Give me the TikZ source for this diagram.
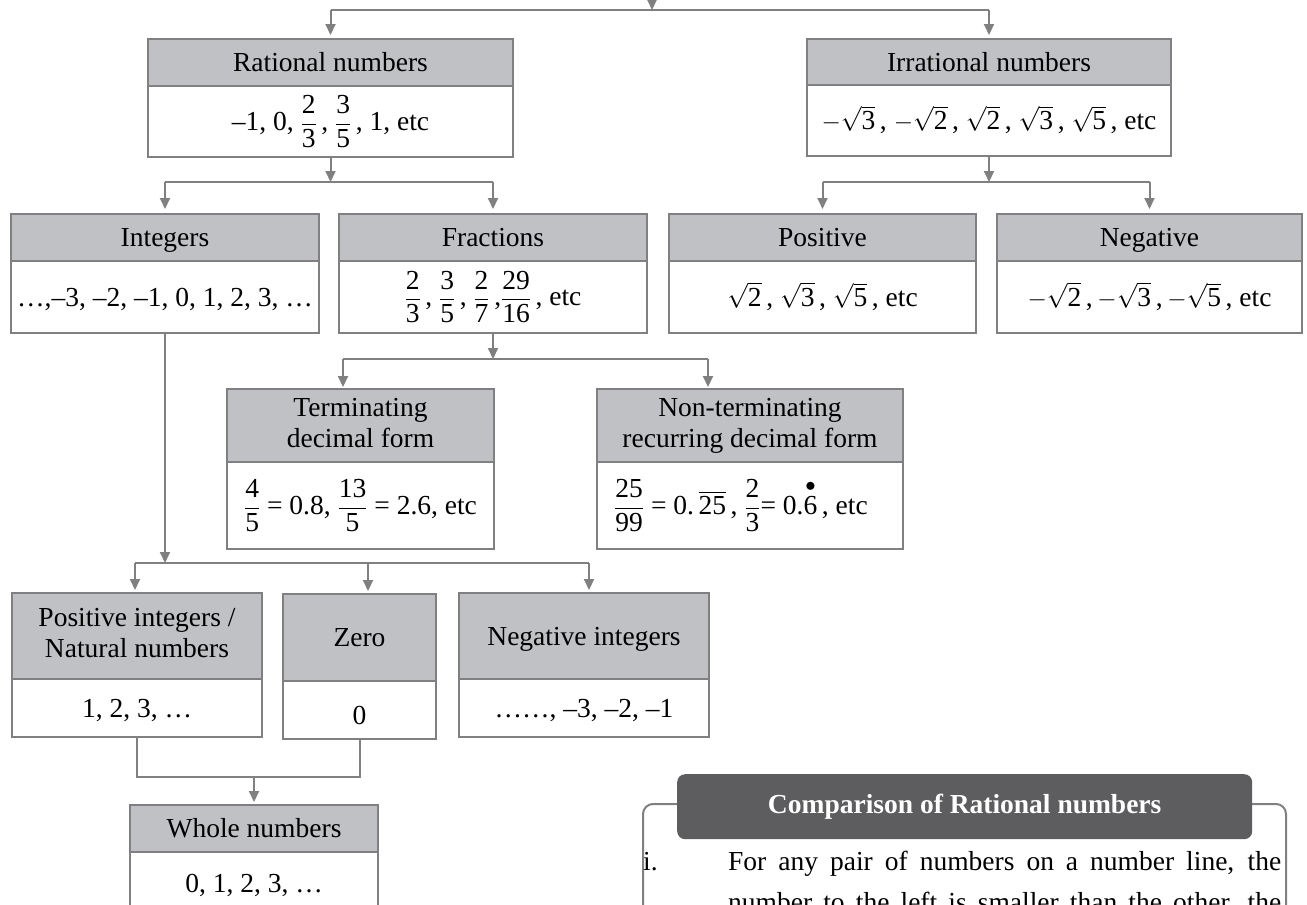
\documentclass[tikz,border=0pt]{standalone}
\usepackage{amsmath}
\usepackage{fontspec}
\setmainfont{Liberation Serif}
\usetikzlibrary{arrows.meta}
\definecolor{linegray}{RGB}{128,128,130}
\definecolor{hdrgray}{RGB}{192,193,196}
\definecolor{tabgray}{RGB}{93,93,95}
\newcommand\bigfont{\fontsize{27.5}{31}\selectfont}
\newcommand\hstrut{\rule[-6pt]{0pt}{30pt}}
\newcommand\fr[2]{\ensuremath{\dfrac{\text{#1}}{\text{#2}}}}
\newcommand\sq[1]{\ensuremath{\sqrt{\text{#1}}}}
\newcommand\mn{\ensuremath{-}}
\newcommand\twobox[8]{%
  \node[hdr, minimum width=#3-#2, minimum height=#5-#4] (#1h) at (#2,#4) {#7};
  \node[bodybox, minimum width=#3-#2, minimum height=#6-#5] (#1) at (#2,#5) {#8};}
\begin{document}
\begin{tikzpicture}[x=1pt,y=-1pt,
  hdr/.style={draw=linegray, fill=hdrgray, line width=2pt, inner sep=0pt, anchor=north west, align=center, font=\bigfont, execute at begin node=\hstrut, execute at end node=\hstrut},
  bodybox/.style={draw=linegray, fill=white, line width=2pt, inner sep=0pt, anchor=north west, align=center, font=\bigfont, execute at begin node=\hstrut},
  arr/.style={draw=linegray, line width=2pt, -{Triangle[length=11pt,width=10pt]}},
  conn/.style={draw=linegray, line width=2pt}]
\clip (0,0) rectangle (1307,905);
\fill[white] (0,0) rectangle (1307,905);
% boxes
\twobox{rat}{147}{512}{38}{85}{156}{Rational numbers}{--1, 0, \fr{2}{3}\,, \fr{3}{5}\,, 1, etc}
\twobox{irr}{806}{1170}{38}{84}{155}{Irrational numbers}{\mn\sq{3}\,,\ \mn\sq{2}\,,\ \sq{2}\,,\ \sq{3}\,,\ \sq{5}\,, etc}
\twobox{int}{10}{318}{213}{260}{332}{Integers}{…,--3, --2, --1, 0, 1, 2, 3, …}
\twobox{frac}{338}{646}{213}{260}{332}{Fractions}{\fr{2}{3}\,, \fr{3}{5}\,, \fr{2}{7}\,,\fr{29}{16}\,, etc}
\twobox{pos}{668}{975}{213}{260}{332}{Positive}{\sq{2}\,, \sq{3}\,, \sq{5}\,, etc}
\twobox{neg}{996}{1301}{213}{260}{332}{Negative}{\mn\sq{2}\,,\,\mn\sq{3}\,,\,\mn\sq{5}\,, etc}
\twobox{term}{226}{493}{388}{461}{548}{Terminating\\decimal form}{\fr{4}{5} = 0.8,\ \fr{13}{5} = 2.6, etc}
\twobox{nont}{596}{902}{388}{461}{548}{Non-terminating\\recurring decimal form}{\fr{25}{99}\ =\ 0.\,\ensuremath{\overline{\text{25}}}\,, \fr{2}{3}= 0.\ensuremath{\overset{\bullet}{\text{6}}}\,, etc\hspace{18pt}}
\twobox{pint}{11}{261}{592}{678}{736}{Positive integers /\\Natural numbers}{1, 2, 3, …}
\twobox{zero}{282}{435}{593}{680}{738}{Zero}{\raisebox{-5pt}{0}}
\twobox{nint}{458}{708}{592}{678}{736}{Negative integers}{……, --3, --2, --1}
\twobox{whole}{129}{377}{804}{851}{913}{Whole numbers}{0, 1, 2, 3, …}
% top level
\coordinate (top0) at (652,-12);
\coordinate (j0) at (652,10);
\draw[arr] (top0) -- (j0);
\draw[conn] (rath.north |- j0) -- (irrh.north |- j0);
\draw[arr, shorten >=3pt] (rath.north |- j0) -- (rath.north);
\draw[arr, shorten >=3pt] (irrh.north |- j0) -- (irrh.north);
% rational children
\coordinate (j1) at (330,182);
\draw[arr] (rat.south) -- (rat.south |- j1);
\draw[conn] (inth.north |- j1) -- (frach.north |- j1);
\draw[arr, shorten >=4pt] (inth.north |- j1) -- (inth.north);
\draw[arr, shorten >=4pt] (frach.north |- j1) -- (frach.north);
% irrational children
\coordinate (j2) at (988,182);
\draw[arr] (irr.south) -- (irr.south |- j2);
\draw[conn] (posh.north |- j2) -- (negh.north |- j2);
\draw[arr, shorten >=4pt] (posh.north |- j2) -- (posh.north);
\draw[arr, shorten >=4pt] (negh.north |- j2) -- (negh.north);
% fraction children
\coordinate (j3a) at (343,359);
\coordinate (j3b) at (708,359);
\draw[arr] (frac.south) -- (frac.south |- j3a);
\draw[conn] (j3a) -- (j3b);
\draw[arr, shorten >=1pt] (j3a) -- (j3a |- termh.north);
\draw[arr, shorten >=1pt] (j3b) -- (j3b |- nonth.north);
% integer children
\coordinate (j4a) at (135,563);
\coordinate (j4b) at (368,563);
\coordinate (j4c) at (589,563);
\draw[arr] (int.south) -- (int.south |- j4a);
\draw[conn] (j4a) -- (j4c);
\draw[arr, shorten >=2pt] (j4a) -- (j4a |- pinth.north);
\draw[arr, shorten >=2pt] (j4b) -- (j4b |- zeroh.north);
\draw[arr, shorten >=2pt] (j4c) -- (j4c |- ninth.north);
% whole numbers
\coordinate (j5) at (253,777);
\draw[conn] (pint.south) -- (pint.south |- j5) -| (zero.south);
\draw[arr, shorten >=2pt] (wholeh.north |- j5) -- (wholeh.north);
% comparison box
\node[draw=linegray, line width=2pt, rounded corners=10pt, minimum width=643, minimum height=200, anchor=north west] (cmp) at (642,803) {};
\node[fill=tabgray, rounded corners=8pt, minimum width=575, minimum height=65, anchor=north west, inner sep=0pt, font=\bigfont\bfseries, text=white] (tab) at (677,774) {Comparison of Rational numbers};
\node[anchor=base west, font=\bigfont, inner sep=0pt] (item) at (643,870) {i.};
\node[anchor=base west, font=\bigfont, inner sep=0pt] (line1) at (728,870) {\makebox[553pt][s]{For any pair of numbers on a number line, the}};
\node[anchor=base west, font=\bigfont, inner sep=0pt] (line2) at (728,911) {\makebox[553pt][s]{number to the left is smaller than the other, the}};
\end{tikzpicture}
\end{document}
